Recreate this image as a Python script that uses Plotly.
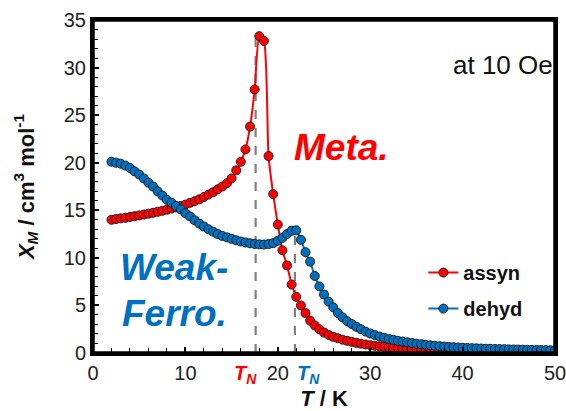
import plotly.graph_objects as go

T = [2.0 + 0.5 * i for i in range(97)]

assyn = [14.00, 14.08, 14.15, 14.22, 14.30, 14.38, 14.46, 14.55, 14.64, 14.74,
         14.84, 14.95, 15.06, 15.18, 15.30, 15.45, 15.60, 15.78, 15.95, 16.15,
         16.40, 16.65, 16.90, 17.20, 17.50, 17.85, 18.35, 19.20, 20.10, 21.40,
         23.80, 27.70, 33.30, 32.80, 20.70, 16.70, 13.50, 10.80, 9.20, 7.20,
         5.90, 5.00, 4.20, 3.40, 2.90, 2.50, 2.15, 1.90, 1.70, 1.55,
         1.40, 1.28, 1.17, 1.07, 0.98, 0.90, 0.82, 0.76, 0.70, 0.65,
         0.61, 0.57, 0.53, 0.50, 0.47, 0.45, 0.42, 0.40, 0.38, 0.36,
         0.34, 0.32, 0.31, 0.29, 0.28, 0.27, 0.26, 0.25, 0.24, 0.23,
         0.22, 0.21, 0.21, 0.20, 0.19, 0.19, 0.18, 0.18, 0.17, 0.17,
         0.16, 0.16, 0.15, 0.15, 0.15, 0.14, 0.14]

dehyd = [20.10, 20.00, 19.90, 19.70, 19.45, 19.10, 18.75, 18.35, 17.90, 17.50,
         17.00, 16.55, 16.10, 15.80, 15.45, 15.10, 14.70, 14.35, 13.95, 13.60,
         13.30, 13.00, 12.75, 12.50, 12.30, 12.15, 12.00, 11.85, 11.72, 11.62,
         11.53, 11.46, 11.42, 11.40, 11.45, 11.55, 11.80, 12.10, 12.50, 12.85,
         12.90, 11.90, 10.60, 9.60, 8.10, 7.00, 6.15, 5.40, 4.80, 4.20,
         3.75, 3.35, 3.05, 2.75, 2.50, 2.25, 2.05, 1.88, 1.73, 1.60,
         1.48, 1.38, 1.28, 1.20, 1.12, 1.05, 0.98, 0.92, 0.86, 0.81,
         0.76, 0.72, 0.68, 0.64, 0.61, 0.58, 0.55, 0.53, 0.51, 0.49,
         0.47, 0.45, 0.44, 0.42, 0.41, 0.40, 0.38, 0.37, 0.36, 0.35,
         0.34, 0.33, 0.32, 0.31, 0.30, 0.29, 0.28]

TN_assyn = 17.6
TN_dehyd = 21.85
peak_assyn = 33.3
peak_dehyd = 12.9

RED = "#FF0000"
BLUE = "#0070C0"
FONT = "Liberation Sans, Arial, sans-serif"

fig = go.Figure()

# dashed guide lines
fig.add_trace(go.Scatter(x=[TN_assyn, TN_assyn], y=[0, peak_assyn], mode="lines",
                         line=dict(color="#808080", width=2.2, dash="dash"),
                         showlegend=False, hoverinfo="skip"))
fig.add_trace(go.Scatter(x=[TN_dehyd, TN_dehyd], y=[0, peak_dehyd], mode="lines",
                         line=dict(color="#808080", width=2.2, dash="dash"),
                         showlegend=False, hoverinfo="skip"))

fig.add_trace(go.Scatter(x=T, y=assyn, mode="lines+markers", name="assyn",
                         legendgroup="a",
                         line=dict(color=RED, width=2, shape="spline", smoothing=0.6),
                         marker=dict(size=9, color=RED, line=dict(color="#222222", width=1))))
fig.add_trace(go.Scatter(x=T, y=dehyd, mode="lines+markers", name="dehyd",
                         legendgroup="b",
                         line=dict(color=BLUE, width=2, shape="spline", smoothing=0.6),
                         marker=dict(size=9, color=BLUE, line=dict(color="#222222", width=1))))

fig.update_layout(
    width=566, height=411,
    margin=dict(l=93, r=11, t=20, b=58),
    paper_bgcolor="white", plot_bgcolor="white",
    font=dict(family=FONT, size=20, color="#222222"),
    legend=dict(x=0.715, y=0.30, xanchor="left", yanchor="top",
                bgcolor="rgba(0,0,0,0)", tracegroupgap=7,
                traceorder="grouped", itemwidth=30,
                font=dict(family=FONT, size=20, color="#111111", weight="bold")),
    showlegend=True,
    shapes=[
        dict(type="line", xref="paper", yref="paper", x0=0, x1=1, y0=1, y1=1,
             line=dict(color="#000000", width=3.5), layer="above"),
        dict(type="line", xref="paper", yref="paper", x0=1, x1=1, y0=0, y1=1,
             line=dict(color="#000000", width=3.5), layer="above"),
        dict(type="line", xref="paper", yref="paper", x0=0, x1=0, y0=0, y1=1,
             line=dict(color="#000000", width=3.5), layer="above"),
        dict(type="line", xref="paper", yref="paper", x0=0, x1=1, y0=0, y1=0,
             line=dict(color="#000000", width=3.5), layer="above"),
    ],
)

fig.update_xaxes(range=[0, 50], tickvals=[0, 10, 20, 30, 40, 50],
                 ticks="inside", ticklen=6, tickwidth=1.5, tickcolor="black",
                 minor=dict(dtick=2, ticks="inside", ticklen=5, tickcolor="black", tickwidth=1.2),
                 showline=True, linecolor="black", linewidth=3, mirror=True,
                 showgrid=False, zeroline=False, automargin=False,
                 ticklabeloverflow="allow",
                 tickfont=dict(size=20, color="#222222"),
                 title=dict(text="<b><i>T</i> / K</b>", font=dict(size=22, color="#111111"), standoff=12))
fig.update_yaxes(range=[0, 35], tickvals=[0, 5, 10, 15, 20, 25, 30, 35],
                 ticks="inside", ticklen=6, tickwidth=1.5, tickcolor="black",
                 minor=dict(dtick=1, ticks="inside", ticklen=5, tickcolor="black", tickwidth=1.2),
                 showline=True, linecolor="black", linewidth=3, mirror=True,
                 showgrid=False, zeroline=False, automargin=False,
                 tickfont=dict(size=20, color="#222222"),
                 title=dict(text="<b><i>X<sub>M</sub></i> / cm<sup>3</sup> mol<sup>-1</sup></b>",
                            font=dict(size=22, color="#111111"), standoff=24))

ann = [
    dict(text="at 10 Oe", x=1.0, y=0.865, xref="paper", yref="paper",
         xanchor="right", yanchor="middle", showarrow=False,
         font=dict(size=26, color="#111111")),
    dict(text="<b><i>Meta.</i></b>", x=26.9, y=21.6, xref="x", yref="y",
         xanchor="center", yanchor="middle", showarrow=False,
         font=dict(size=37, color=RED)),
    dict(text="<b><i>Weak-</i></b>", x=8.8, y=9.0, xref="x", yref="y",
         xanchor="center", yanchor="middle", showarrow=False,
         font=dict(size=37, color=BLUE)),
    dict(text="<b><i>Ferro.</i></b>", x=8.8, y=4.2, xref="x", yref="y",
         xanchor="center", yanchor="middle", showarrow=False,
         font=dict(size=37, color=BLUE)),
    dict(text="<b><i>T<sub>N</sub></i></b>", x=16.5, y=0, xref="x", yref="paper",
         xanchor="center", yanchor="top", yshift=-7, showarrow=False,
         font=dict(size=20, color=RED)),
    dict(text="<b><i>T<sub>N</sub></i></b>", x=23.3, y=0, xref="x", yref="paper",
         xanchor="center", yanchor="top", yshift=-7, showarrow=False,
         font=dict(size=20, color=BLUE)),
]
fig.update_layout(annotations=ann)

fig.write_html("out.html")
